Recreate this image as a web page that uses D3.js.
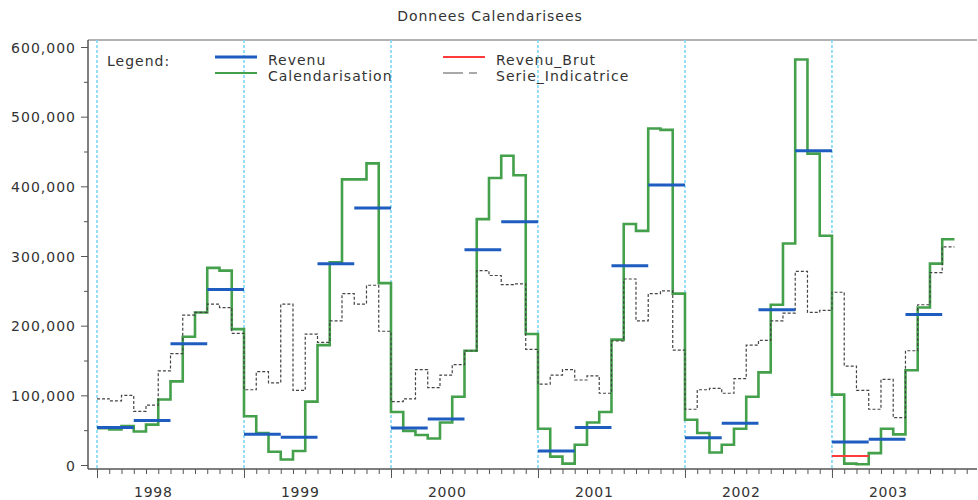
<!DOCTYPE html>
<html lang="fr">
<head>
    <meta charset="utf-8">
    <title>Donnees Calendarisees</title>
    <style>
        body {
            margin: 0;
            padding: 0;
            background: #fff;
            font-family: "DejaVu Sans", Arial, sans-serif;
        }
        .axis text {
            font-family: "DejaVu Sans", Arial, sans-serif;
            font-size: 14px;
            fill: #333;
            letter-spacing: 1px;
        }
        .axis line, .axis path {
            stroke: #555;
        }
    </style>
</head>
<body>

<div id="chart"></div>

<script src="https://d3js.org/d3.v7.min.js"></script>

<script>
  // Monthly series, Jan 1998 .. Oct 2003
  const calendarisation = [
    53000, 51000, 56000, 48000, 58000, 94000, 120000, 184000, 219000, 283000, 279000, 195000,
    70000, 46000, 19000, 8000, 20000, 91000, 172000, 291000, 410000, 410000, 433000, 261000,
    76000, 49000, 43000, 38000, 61000, 98000, 164000, 353000, 412000, 444000, 416000, 188000,
    52000, 12000, 2000, 29000, 61000, 76000, 180000, 346000, 336000, 483000, 481000, 246000,
    65000, 46000, 18000, 29000, 52000, 98000, 133000, 230000, 318000, 582000, 447000, 329000,
    101000, 2000, 1000, 17000, 52000, 44000, 136000, 226000, 289000, 324000
  ];

  const serieIndicatrice = [
    95000, 92000, 100000, 77000, 86000, 135000, 160000, 215000, 219000, 231000, 226000, 189000,
    108000, 134000, 118000, 231000, 107000, 188000, 176000, 207000, 246000, 231000, 258000, 192000,
    91000, 95000, 137000, 111000, 129000, 144000, 164000, 279000, 272000, 259000, 260000, 166000,
    116000, 129000, 137000, 122000, 128000, 103000, 178000, 267000, 207000, 246000, 250000, 165000,
    80000, 108000, 110000, 103000, 124000, 172000, 179000, 207000, 218000, 278000, 219000, 222000,
    248000, 142000, 107000, 80000, 123000, 68000, 164000, 230000, 276000, 313000
  ];

  // Quarterly series, 1998Q1 .. 2003Q3
  const revenu = [
    54000, 64000, 174000, 252000,
    44000, 40000, 289000, 369000,
    53000, 66000, 309000, 349000,
    20000, 54000, 286000, 402000,
    39000, 60000, 223000, 451000,
    33000, 37000, 216000
  ];

  // Raw revenue: only the first quarter of 2003 (quarter index 20)
  const revenuBrutQuarter = [20];
  const revenuBrut = [13000];

  const years = [1998, 1999, 2000, 2001, 2002, 2003];
  const yTicks = [0, 100000, 200000, 300000, 400000, 500000, 600000];

  const width = 978, height = 500;
  const plotLeft = 88, plotRight = 977, plotTop = 40, plotBottom = 469;

  const svg = d3.select("#chart")
    .append("svg")
    .attr("width", width)
    .attr("height", height);

  // x in months since Jan 1998
  const x = d3.scaleLinear()
    .domain([-0.735, 71.84])
    .range([plotLeft, plotRight]);

  const y = d3.scaleLinear()
    .domain([0, 600000])
    .range([465, 47]);

  // Title
  svg.append("text")
    .attr("x", 490)
    .attr("y", 21)
    .attr("text-anchor", "middle")
    .style("font-size", "14px")
    .style("letter-spacing", "1px")
    .style("fill", "#333")
    .text("Donnees Calendarisees");

  // frame top border
  svg.append("line")
    .attr("x1", plotLeft).attr("x2", plotRight)
    .attr("y1", plotTop).attr("y2", plotTop)
    .attr("stroke", "#999").attr("stroke-width", 1.5);

  // year reference lines
  svg.selectAll(".yearLine")
    .data(years)
    .enter()
    .append("line")
    .attr("class", "yearLine")
    .attr("x1", (d, i) => x(i * 12))
    .attr("x2", (d, i) => x(i * 12))
    .attr("y1", plotTop)
    .attr("y2", plotBottom)
    .attr("stroke", "#7fd6f4")
    .attr("stroke-width", 1.6)
    .attr("stroke-dasharray", "3,2");

  // Y axis
  const yAxis = svg.append("g")
    .attr("class", "axis")
    .attr("transform", `translate(${plotLeft},0)`)
    .call(d3.axisLeft(y).tickValues(yTicks).tickFormat(d3.format(",")).tickSize(7).tickPadding(5));
  yAxis.select(".domain").remove();
  yAxis.selectAll("text").attr("dy", "0.36em");

  svg.append("g")
    .attr("class", "axis")
    .attr("transform", `translate(${plotLeft},0)`)
    .call(d3.axisLeft(y).tickValues(d3.range(50000, 600000, 100000)).tickFormat("").tickSize(4))
    .select(".domain").remove();

  svg.append("line")
    .attr("x1", plotLeft).attr("x2", plotLeft)
    .attr("y1", plotTop).attr("y2", plotBottom)
    .attr("stroke", "#555").attr("stroke-width", 1.5);

  // X axis: monthly minor ticks, yearly major ticks
  const months = d3.range(0, 72);
  svg.append("g")
    .attr("class", "axis")
    .attr("transform", `translate(0,${plotBottom})`)
    .call(d3.axisBottom(x).tickValues(months.filter(m => m % 12 !== 0)).tickFormat("").tickSize(5))
    .select(".domain").remove();

  svg.append("g")
    .attr("class", "axis")
    .attr("transform", `translate(0,${plotBottom})`)
    .call(d3.axisBottom(x).tickValues(years.map((d, i) => i * 12)).tickFormat("").tickSize(9))
    .select(".domain").remove();

  svg.append("line")
    .attr("x1", plotLeft).attr("x2", plotRight)
    .attr("y1", plotBottom).attr("y2", plotBottom)
    .attr("stroke", "#555").attr("stroke-width", 1.5);

  svg.selectAll(".yearLabel")
    .data(years)
    .enter()
    .append("text")
    .attr("class", "yearLabel")
    .attr("x", (d, i) => x(i * 12 + 4.6))
    .attr("y", 497)
    .attr("text-anchor", "middle")
    .style("font-size", "14px")
    .style("letter-spacing", "0.8px")
    .style("fill", "#333")
    .text(d => d);

  // step lines (value holds until next month)
  const stepLine = d3.line()
    .x(d => x(d[0]))
    .y(d => y(d[1]))
    .curve(d3.curveStepAfter);

  function stepPoints(values) {
    const pts = values.map((v, i) => [i, v]);
    pts.push([values.length, values[values.length - 1]]);
    return pts;
  }

  svg.append("path")
    .datum(stepPoints(calendarisation))
    .attr("d", stepLine)
    .attr("fill", "none")
    .attr("stroke", "#45a04c")
    .attr("stroke-width", 2.6);

  svg.append("path")
    .datum(stepPoints(serieIndicatrice))
    .attr("d", stepLine)
    .attr("fill", "none")
    .attr("stroke", "#444")
    .attr("stroke-width", 1.2)
    .attr("stroke-dasharray", "3,2");

  // quarterly segments
  svg.selectAll(".revenu")
    .data(revenu)
    .enter()
    .append("line")
    .attr("class", "revenu")
    .attr("x1", (d, i) => x(i * 3))
    .attr("x2", (d, i) => x(i * 3 + 3))
    .attr("y1", d => y(d))
    .attr("y2", d => y(d))
    .attr("stroke", "#1f5cbf")
    .attr("stroke-width", 3);

  svg.selectAll(".revenuBrut")
    .data(revenuBrut)
    .enter()
    .append("line")
    .attr("class", "revenuBrut")
    .attr("x1", (d, i) => x(revenuBrutQuarter[i] * 3))
    .attr("x2", (d, i) => x(revenuBrutQuarter[i] * 3 + 3))
    .attr("y1", d => y(d))
    .attr("y2", d => y(d))
    .attr("stroke", "#ff3b3b")
    .attr("stroke-width", 2);

  // Legend
  const legend = svg.append("g")
    .style("font-size", "14px")
    .style("letter-spacing", "1px")
    .style("fill", "#333");
  legend.append("text").attr("x", 107).attr("y", 66).text("Legend:");

  const legendItems = [
    { name: "Revenu", x: 215, y: 57, color: "#1f5cbf", w: 3, dash: null },
    { name: "Calendarisation", x: 215, y: 73, color: "#45a04c", w: 2, dash: null },
    { name: "Revenu_Brut", x: 443, y: 57, color: "#ff3b3b", w: 2, dash: null },
    { name: "Serie_Indicatrice", x: 443, y: 73, color: "#555", w: 1.2, dash: "20,6,8" }
  ];

  legendItems.forEach(item => {
    legend.append("line")
      .attr("x1", item.x).attr("x2", item.x + 42)
      .attr("y1", item.y).attr("y2", item.y)
      .attr("stroke", item.color)
      .attr("stroke-width", item.w)
      .attr("stroke-dasharray", item.dash);
    legend.append("text")
      .attr("x", item.x + 53)
      .attr("y", item.y + 8)
      .text(item.name);
  });
</script>

</body>
</html>
